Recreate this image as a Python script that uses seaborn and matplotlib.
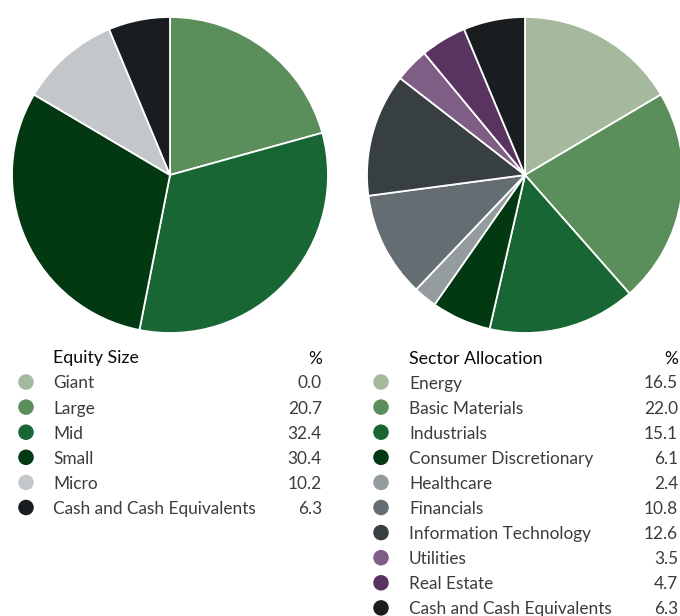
import matplotlib
matplotlib.use("Agg")
import matplotlib.pyplot as plt
import seaborn as sns

sns.set_theme(style="white")
plt.rcParams['font.family'] = ['Lato', 'DejaVu Sans']

# ---- data ----
equity_title = "Equity Size"
equity_labels = ["Giant", "Large", "Mid", "Small", "Micro", "Cash and Cash Equivalents"]
equity_values = [0.0, 20.7, 32.4, 30.4, 10.2, 6.3]
equity_colors = ["#a5b99e", "#5a8e5a", "#186634", "#023812", "#c4c7c9", "#191d20"]

sector_title = "Sector Allocation"
sector_labels = ["Energy", "Basic Materials", "Industrials", "Consumer Discretionary",
                 "Healthcare", "Financials", "Information Technology", "Utilities",
                 "Real Estate", "Cash and Cash Equivalents"]
sector_values = [16.5, 22.0, 15.1, 6.1, 2.4, 10.8, 12.6, 3.5, 4.7, 6.3]
sector_colors = ["#a5b99e", "#5a8e5a", "#186634", "#023812", "#959c9f",
                 "#646e72", "#373f42", "#7e5e85", "#5a3460", "#191d20"]

W, H = 680, 616
fig = plt.figure(figsize=(W / 100, H / 100), dpi=100)
fig.patch.set_facecolor("white")

def pie_axes(cx, cy, r):
    return fig.add_axes([(cx - r) / W, (H - cy - r) / H, 2 * r / W, 2 * r / H])

for (cx, vals, cols) in [(170, equity_values, equity_colors), (525, sector_values, sector_colors)]:
    ax = pie_axes(cx, 175, 158)
    ax.pie(vals, colors=cols, startangle=90, counterclock=False,
           wedgeprops=dict(edgecolor="white", linewidth=1.3), radius=1.0)
    ax.set_xlim(-1.0, 1.0)
    ax.set_ylim(-1.0, 1.0)
    ax.set_aspect("equal")
    ax.axis("off")

# overlay for legend tables in pixel coordinates
ov = fig.add_axes([0, 0, 1, 1])
ov.set_xlim(0, W)
ov.set_ylim(H, 0)
ov.axis("off")
ov.patch.set_alpha(0)

def table(x_dot, x_text, x_right, title, labels, values, colors):
    y0 = 358.5
    ov.text(x_text, y0, title, fontsize=12.8, color="#0a0a0a", va="center", ha="left",
            fontweight="normal")
    ov.text(x_right, y0, "%", fontsize=12.4, color="#0a0a0a", va="center", ha="right")
    for i, (lab, v, c) in enumerate(zip(labels, values, colors)):
        y = 383.5 + 25.1 * i
        ov.scatter([x_dot], [y - 1.5], s=125, color=c, edgecolors="none", clip_on=False)
        ov.text(x_text, y, lab, fontsize=12.4, color="#3c3c3c", va="center", ha="left",
                fontweight="normal")
        ov.text(x_right, y, f"{v:.1f}", fontsize=12.4, color="#3c3c3c", va="center",
                ha="right", fontweight="normal")

table(26, 53, 322, equity_title, equity_labels, equity_values, equity_colors)
table(381, 409, 678, sector_title, sector_labels, sector_values, sector_colors)

fig.savefig("out.png", dpi=100, facecolor="white")
